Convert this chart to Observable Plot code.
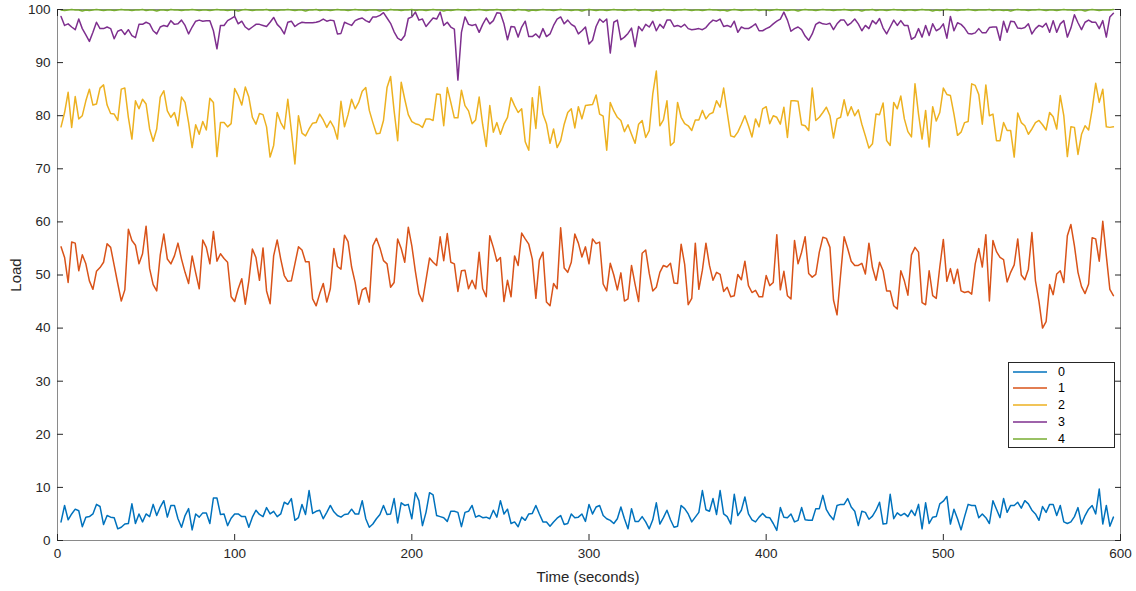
<!DOCTYPE html>
<html><head><meta charset="utf-8">
<script src="https://cdn.jsdelivr.net/npm/d3@7"></script>
<script src="https://cdn.jsdelivr.net/npm/@observablehq/plot@0.6"></script>
<style>
body{margin:0;background:#fff;font-family:"Liberation Sans",Arial,sans-serif;}
#wrap{position:relative;width:1136px;height:591px;overflow:hidden;}
#legend{position:absolute;left:1008px;top:362px;width:107px;height:86px;border:1px solid #262626;background:#fff;box-sizing:border-box;}
.row{position:absolute;left:0;height:16px;width:100%;}
.row svg{position:absolute;left:3px;top:0;}
.row span{position:absolute;left:49px;top:0;line-height:16px;font-size:12.5px;color:#000;}
.xl{position:absolute;left:0;width:1176px;top:568px;text-align:center;font-size:15px;color:#262626;}
.yl{position:absolute;left:15px;top:275px;transform:translate(-50%,-50%) rotate(-90deg);font-size:15px;color:#262626;white-space:nowrap;}
</style></head>
<body><div id="wrap"></div>
<script>
const seriesNames = ["0","1","2","3","4"];
const seriesColors = ["#0072BD","#D95319","#EDB120","#7E2F8E","#77AC30"];
const xTicks = [0,100,200,300,400,500,600];
const yTicks = [0,10,20,30,40,50,60,70,80,90,100];
const timeStart = 2, timeStep = 2;

const load0 = [3.5,6.6,3.9,5.0,5.9,5.6,2.6,4.4,4.5,5.0,6.8,6.4,3.0,4.7,4.4,4.3,2.2,2.5,3.1,3.2,6.9,3.2,5.0,3.5,5.0,4.5,6.8,4.7,6.3,7.5,4.4,6.6,6.6,4.1,2.5,4.7,6.0,2.0,5.0,4.4,5.2,5.2,3.2,8.0,8.0,4.9,5.0,2.8,4.2,5.0,5.0,4.5,4.5,2.5,4.4,5.7,4.9,4.5,6.2,5.0,5.5,4.5,5.0,7.2,6.8,7.9,3.8,4.3,6.8,4.9,9.4,5.1,5.5,5.7,4.1,
5.3,6.6,5.4,4.7,4.4,4.9,5.0,5.9,5.0,5.0,7.5,4.1,2.5,3.1,4.1,4.9,6.6,4.9,5.0,7.9,3.3,7.1,6.6,6.8,4.1,9.0,7.5,2.8,5.3,9.0,8.6,4.7,4.5,4.3,3.6,5.5,5.5,5.3,2.6,5.3,5.5,6.6,4.4,4.7,4.3,4.4,4.1,5.7,4.4,7.5,5.0,5.9,3.2,3.5,2.6,4.4,3.8,5.0,5.1,6.6,5.0,3.5,3.5,2.7,3.5,4.2,4.7,3.0,3.2,5.0,4.3,4.4,5.0,3.6,6.8,
5.0,6.3,6.6,4.7,4.1,3.8,3.2,4.1,6.3,4.1,2.2,6.0,3.6,3.6,4.5,3.5,2.2,3.9,7.1,3.1,4.3,5.7,3.9,2.5,2.7,6.6,6.0,5.0,3.5,4.4,5.3,9.4,5.8,5.5,7.9,4.9,9.4,5.0,4.5,3.1,8.7,4.7,5.7,8.2,5.0,3.9,3.5,4.4,5.1,4.4,4.3,3.2,1.9,6.2,4.4,4.3,5.0,3.5,3.8,6.2,3.9,3.8,3.8,6.0,6.0,8.5,5.8,4.7,3.9,6.6,6.8,6.8,7.9,6.3,5.5,
2.8,5.5,5.3,4.0,4.6,5.7,7.2,3.1,3.2,8.7,4.1,5.2,4.7,5.1,4.5,5.7,4.7,6.8,2.2,7.1,3.2,4.4,4.5,6.9,7.4,8.3,3.1,5.9,4.1,2.0,4.5,6.8,6.6,6.6,4.3,5.0,4.3,3.2,7.5,5.9,4.3,7.9,5.3,6.6,6.6,7.2,6.1,7.5,6.9,5.7,5.0,3.8,6.4,5.3,6.8,6.8,4.7,6.6,3.5,3.2,3.5,4.5,6.2,3.1,4.7,5.9,6.6,5.0,9.7,3.1,6.6,2.7,4.4];

const load1 = [55.3,53.3,48.6,56.2,56.0,50.8,53.8,52.1,48.9,47.3,50.7,51.4,52.4,55.9,55.2,51.8,48.4,45.1,47.2,58.6,56.5,55.6,52.1,54.0,59.2,51.2,48.2,47.0,53.8,57.7,53.0,52.1,53.6,56.0,53.0,50.5,48.4,53.6,50.4,47.4,56.6,55.2,52.1,58.2,52.6,54.0,53.1,52.4,45.9,45.0,47.4,49.3,44.5,48.9,54.9,53.3,49.0,55.1,47.0,44.6,53.6,56.6,53.0,49.9,48.8,48.9,52.1,55.3,54.7,52.5,52.5,45.5,44.2,46.5,48.4,
44.9,47.4,55.0,51.6,51.1,57.5,56.3,51.5,48.6,44.5,47.2,47.6,44.9,55.5,56.9,55.1,52.7,52.1,47.7,48.6,56.8,55.0,52.4,59.0,55.5,50.7,46.5,45.0,49.1,53.2,52.4,51.8,57.2,52.7,57.8,52.4,52.1,46.9,50.8,50.9,47.4,49.0,47.4,54.3,47.4,45.9,57.4,55.2,52.6,53.3,45.0,49.0,45.9,53.6,51.8,57.9,56.8,55.8,53.0,45.6,52.8,54.3,44.9,44.2,48.4,47.4,58.9,51.3,50.5,52.4,57.7,56.0,53.4,55.3,52.1,
56.8,55.9,56.2,48.3,47.0,52.2,50.0,47.2,50.4,45.1,45.5,51.8,48.3,45.0,54.1,54.7,50.3,47.0,47.7,50.5,51.8,51.5,52.2,48.5,48.4,55.8,52.0,44.4,45.6,56.0,47.3,50.9,56.0,51.8,49.0,50.5,50.1,46.9,47.7,45.9,46.1,50.1,49.1,52.6,48.0,46.7,47.1,45.9,45.9,49.9,48.0,48.6,57.6,47.2,50.7,46.1,45.5,56.5,52.1,54.3,57.2,50.3,49.6,50.1,54.3,57.1,56.9,55.2,45.3,42.5,50.0,57.2,55.0,52.6,51.8,
51.8,52.2,50.2,56.0,51.4,49.0,52.4,50.8,47.0,47.0,44.2,43.6,50.8,48.9,46.2,53.8,55.2,54.3,44.8,44.4,50.8,46.1,45.6,51.5,56.7,48.8,51.2,48.4,51.1,47.0,46.7,46.9,46.4,52.1,55.0,51.5,57.6,45.1,56.5,54.4,53.3,52.9,48.7,50.5,51.9,56.8,50.0,49.1,51.1,58.0,48.9,45.0,40.0,41.2,48.2,46.3,50.2,50.8,48.6,57.4,59.5,55.5,50.5,47.8,46.5,48.3,57.0,56.8,52.6,60.1,53.6,47.3,46.1];

const load2 = [77.9,80.6,84.4,77.8,83.6,79.4,80.0,82.8,85.0,82.0,82.2,85.2,85.8,82.0,80.4,80.3,79.1,85.0,85.2,79.7,75.6,82.8,81.3,83.1,82.2,77.5,75.2,77.5,83.5,84.7,80.9,79.7,80.6,78.1,83.5,82.5,78.7,74.0,78.3,76.5,78.9,77.3,83.3,82.5,72.3,78.7,78.7,77.9,78.5,85.1,83.8,82.0,85.4,83.5,79.7,78.4,80.4,80.2,77.9,72.2,74.4,80.6,78.7,77.5,83.1,77.2,70.9,80.0,76.7,76.2,77.5,78.6,78.7,80.3,79.2,
77.8,79.0,77.8,75.6,82.7,77.9,80.2,83.1,81.3,82.5,84.6,85.3,81.0,78.7,76.6,76.7,79.1,85.3,87.4,80.9,75.3,86.3,83.1,80.2,78.9,78.5,78.3,77.8,79.4,79.4,79.1,84.1,84.0,78.1,85.3,82.5,79.6,79.6,84.8,81.9,80.9,78.5,79.2,83.5,78.3,74.2,81.9,76.9,78.7,76.5,78.4,79.7,83.4,81.9,80.6,81.3,75.1,73.5,83.4,77.6,85.5,80.3,78.5,74.8,77.5,74.0,75.3,78.4,80.6,81.3,77.7,81.7,79.4,81.9,82.0,
82.1,83.9,80.3,79.9,73.5,82.5,80.9,79.7,79.1,77.0,78.3,76.5,74.8,78.4,79.1,75.9,77.2,84.1,88.4,78.1,79.2,82.8,74.4,75.0,82.5,79.7,78.5,78.1,77.2,79.2,79.2,81.0,79.4,80.3,80.6,82.8,81.6,85.2,80.6,76.2,76.0,76.9,78.4,80.0,78.1,76.0,79.4,77.9,81.3,81.7,78.5,80.0,79.7,78.4,81.6,75.9,82.8,82.8,82.7,78.3,78.1,77.2,85.2,79.1,79.7,80.6,81.6,80.0,75.8,79.4,79.7,83.0,80.0,81.7,80.0,
81.1,78.4,76.2,73.9,74.7,80.3,80.2,82.4,75.3,74.4,82.5,81.3,83.7,79.4,77.0,76.0,86.0,80.3,75.6,81.0,74.1,81.7,79.0,80.6,85.2,84.0,83.8,80.3,76.3,76.9,78.7,78.9,86.0,85.7,84.0,78.4,85.8,80.0,80.3,75.3,75.3,78.7,77.2,77.2,72.2,80.5,78.7,78.1,76.5,77.5,78.7,79.1,78.3,77.3,80.6,79.8,77.5,83.8,80.0,72.3,77.9,77.8,72.7,76.5,78.1,77.3,81.2,86.1,82.5,85.0,77.9,77.8,77.9];

const load3 = [98.7,97.0,97.3,96.7,96.2,98.2,96.4,95.2,94.0,95.7,97.6,96.4,96.4,96.7,96.4,94.5,95.9,96.2,95.3,96.2,95.1,94.7,97.2,97.2,97.6,97.3,96.0,95.4,96.7,97.0,96.8,97.9,97.2,97.3,98.0,97.0,95.4,96.7,97.8,98.0,97.8,97.9,97.9,96.0,92.6,97.0,97.0,97.9,98.3,98.7,97.3,97.8,96.7,96.2,96.7,97.2,97.2,97.0,96.8,97.6,98.5,97.2,96.5,95.4,97.6,97.8,96.8,97.3,97.6,97.5,97.5,97.5,97.6,97.8,98.2,
97.8,98.0,97.9,95.4,95.5,97.6,97.3,97.0,97.9,98.2,98.4,97.9,97.6,98.6,98.6,98.9,99.4,98.4,97.4,95.8,94.6,94.2,95.1,98.3,98.6,99.5,98.0,98.2,96.8,97.6,98.4,98.2,99.5,97.0,97.6,96.7,96.3,86.7,95.7,98.6,97.2,97.0,97.2,95.7,97.2,98.4,97.3,97.9,99.4,99.3,97.3,94.3,96.8,96.7,94.8,96.7,97.8,94.9,94.9,95.4,94.7,96.4,94.9,95.4,97.0,98.2,98.6,97.3,98.0,97.2,96.8,95.4,96.0,96.7,93.5,
94.2,96.8,98.2,97.6,98.2,91.8,97.6,98.0,94.3,94.8,95.5,96.5,93.0,96.8,96.0,97.2,96.7,97.8,96.0,97.2,96.5,98.0,98.0,96.8,97.0,96.7,97.2,96.4,96.2,96.3,96.4,96.2,96.6,97.4,98.0,97.8,98.2,96.8,97.0,96.7,97.8,95.7,96.7,96.4,96.4,96.8,97.3,96.0,96.0,96.4,96.7,97.3,97.8,98.2,99.5,98.0,95.9,96.4,96.7,96.2,95.0,94.2,95.4,97.2,97.6,97.3,97.2,97.4,96.2,97.3,98.0,98.0,97.0,97.5,98.2,
97.3,96.0,97.0,96.4,97.9,97.3,98.3,96.5,95.4,96.7,98.0,97.0,97.9,97.0,97.0,94.4,94.8,96.4,94.8,97.0,95.1,97.3,96.0,96.4,97.3,94.6,98.7,96.0,97.5,97.2,96.5,95.5,95.4,95.6,96.4,95.6,95.6,96.6,96.7,96.7,94.2,97.8,95.7,97.8,97.7,96.5,96.4,96.6,97.3,95.4,96.4,97.0,96.7,97.4,95.7,97.9,95.7,97.3,97.9,94.8,96.5,99.0,97.5,96.2,97.6,98.0,97.6,97.6,96.4,97.9,94.8,98.6,99.3];

const load4 = [99.9,99.8,99.9,100,99.9,99.9,99.7,99.9,99.8,99.9,100,99.9,99.8,99.9,99.9,99.8,99.9,100,99.9,99.9,
99.8,99.9,99.9,100,99.8,99.9,99.9,99.7,99.9,99.9,99.8,100,99.9,99.9,99.8,99.9,99.9,100,99.9,99.8,
99.9,99.9,99.8,99.9,100,99.9,99.9,99.8,99.9,99.9,99.7,99.9,100,99.9,99.8,99.9,99.9,99.9,100,99.8,
99.9,99.8,99.9,99.9,100,99.9,99.8,99.9,99.9,99.7,99.9,99.9,100,99.8,99.9,99.9,99.8,99.9,100,99.9,
99.9,99.8,99.9,100,99.9,99.9,99.8,99.9,99.9,99.9,99.7,99.9,99.8,100,99.9,99.9,99.8,99.9,99.9,100,
99.8,99.9,99.9,99.8,99.9,100,99.9,99.9,99.7,99.9,99.8,99.9,100,99.9,99.9,99.8,99.9,99.9,100,99.9,
99.8,99.9,99.9,100,99.9,99.8,99.9,99.9,99.8,100,99.9,99.9,99.7,99.9,99.8,99.9,100,99.9,99.9,99.8,
99.9,100,99.9,99.9,99.8,99.9,99.9,99.7,99.9,100,99.9,99.8,99.9,99.9,99.8,99.9,100,99.9,99.9,99.8,
99.9,99.9,100,99.8,99.9,99.9,99.9,99.7,99.9,99.8,100,99.9,99.9,99.8,99.9,99.9,100,99.9,99.8,99.9,
99.9,99.8,99.9,100,99.9,99.9,99.8,99.9,99.7,99.9,100,99.9,99.8,99.9,99.9,99.9,100,99.8,99.9,99.9,
99.8,99.9,100,99.9,99.9,99.8,99.9,99.9,99.7,99.9,100,99.9,99.9,99.8,99.9,100,99.9,99.9,99.8,99.9,
99.9,100,99.9,99.8,99.9,99.9,99.7,99.9,99.9,100,99.8,99.9,99.9,99.8,99.9,100,99.9,99.9,99.8,99.9,
99.9,99.8,99.9,100,99.9,99.9,99.7,99.9,99.8,99.9,100,99.9,99.9,99.8,99.9,99.9,100,99.9,99.8,99.9,
99.9,99.9,100,99.8,99.9,99.9,99.8,99.9,99.7,99.9,100,99.9,99.9,99.8,99.9,99.9,100,99.9,99.8,99.9,
99.9,99.8,99.9,100,99.9,99.9,99.8,99.9,99.9,99.7,99.9,100,99.9,99.8,99.9,99.9,99.9,100];

const seriesValues = [load0, load1, load2, load3, load4];
const rows = [];
seriesValues.forEach((vals, s) => vals.forEach((v, i) => rows.push({series: seriesNames[s], t: timeStart + timeStep * i, v})));

const axisColor = "#262626";
const chart = Plot.plot({
  width: 1136, height: 591,
  marginLeft: 57, marginRight: 16, marginTop: 9, marginBottom: 51,
  style: {fontFamily: "'Liberation Sans', Arial, sans-serif", fontSize: "13.5px", color: axisColor, background: "#fff", overflow: "visible"},
  x: {domain: [0, 600]},
  y: {domain: [0, 100]},
  color: {domain: seriesNames, range: seriesColors},
  marks: [
    Plot.frame({stroke: "#8a8a8a", strokeWidth: 1}),
    Plot.line(rows, {x: "t", y: "v", z: "series", stroke: "series", strokeWidth: 1.5}),
    Plot.axisX(xTicks, {anchor: "bottom", tickSize: -6, tickPadding: 14, label: null, stroke: axisColor}),
    Plot.axisX(xTicks, {anchor: "top", tickSize: -6, tickFormat: () => "", label: null, stroke: axisColor}),
    Plot.axisY(yTicks, {anchor: "left", tickSize: -6, tickPadding: 13, label: null, stroke: axisColor}),
    Plot.axisY(yTicks, {anchor: "right", tickSize: -6, tickFormat: () => "", label: null, stroke: axisColor})
  ]
});
const wrap = document.getElementById("wrap");
wrap.appendChild(chart);

const xl = document.createElement("div"); xl.className = "xl"; xl.textContent = "Time (seconds)"; wrap.appendChild(xl);
const yl = document.createElement("div"); yl.className = "yl"; yl.textContent = "Load"; wrap.appendChild(yl);

const legend = document.createElement("div"); legend.id = "legend";
seriesNames.forEach((n, i) => {
  const r = document.createElement("div"); r.className = "row"; r.style.top = (0.5 + i * 16.8) + "px";
  r.innerHTML = `<svg width="36" height="16"><line x1="1" x2="35" y1="8" y2="8" stroke="${seriesColors[i]}" stroke-width="1.5"/></svg><span>${n}</span>`;
  legend.appendChild(r);
});
wrap.appendChild(legend);
</script>
</body></html>
